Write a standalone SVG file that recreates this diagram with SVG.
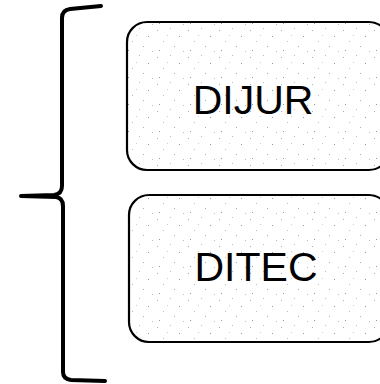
<svg xmlns="http://www.w3.org/2000/svg" width="380" height="384" viewBox="0 0 380 384">
<style>
.box{fill:url(#dots);stroke:#000;stroke-width:2.2}
.lbl{font-family:"Liberation Sans",Arial,sans-serif;font-size:41px;fill:#000;text-anchor:middle}
.brace{fill:none;stroke:#000;stroke-width:4;stroke-linecap:round;stroke-linejoin:round}
</style>
<defs>
<pattern id="dots" width="31" height="27" patternUnits="userSpaceOnUse">
<rect width="31" height="27" fill="#fff"/>
<rect x="2" y="3" width="1" height="1" fill="#aaa"/>
<rect x="15" y="1" width="1" height="1" fill="#bbb"/>
<rect x="24" y="9" width="1" height="1" fill="#999"/>
<rect x="8" y="14" width="1" height="1" fill="#bbb"/>
<rect x="19" y="19" width="1" height="1" fill="#aaa"/>
<rect x="4" y="23" width="1" height="1" fill="#999"/>
<rect x="28" y="24" width="1" height="1" fill="#bbb"/>
<rect x="12" y="8" width="1" height="1" fill="#ccc"/>
</pattern>
</defs>
<g id="connectors">
<path class="brace" d="M101,6 L70,9 Q62,10 62,18 L62,186 Q62,194 54,195 L21,196 L56,197 Q63,198 63,206 L63,372 Q63,379 71,380 L105,381"/>
</g>
<g id="node-dijur">
<rect class="box" x="127" y="22" width="262" height="148" rx="20"/>
<text class="lbl" x="253" y="114">DIJUR</text>
</g>
<g id="node-ditec">
<rect class="box" x="129" y="195" width="260" height="147" rx="20"/>
<text class="lbl" x="256" y="281">DITEC</text>
</g>
</svg>
